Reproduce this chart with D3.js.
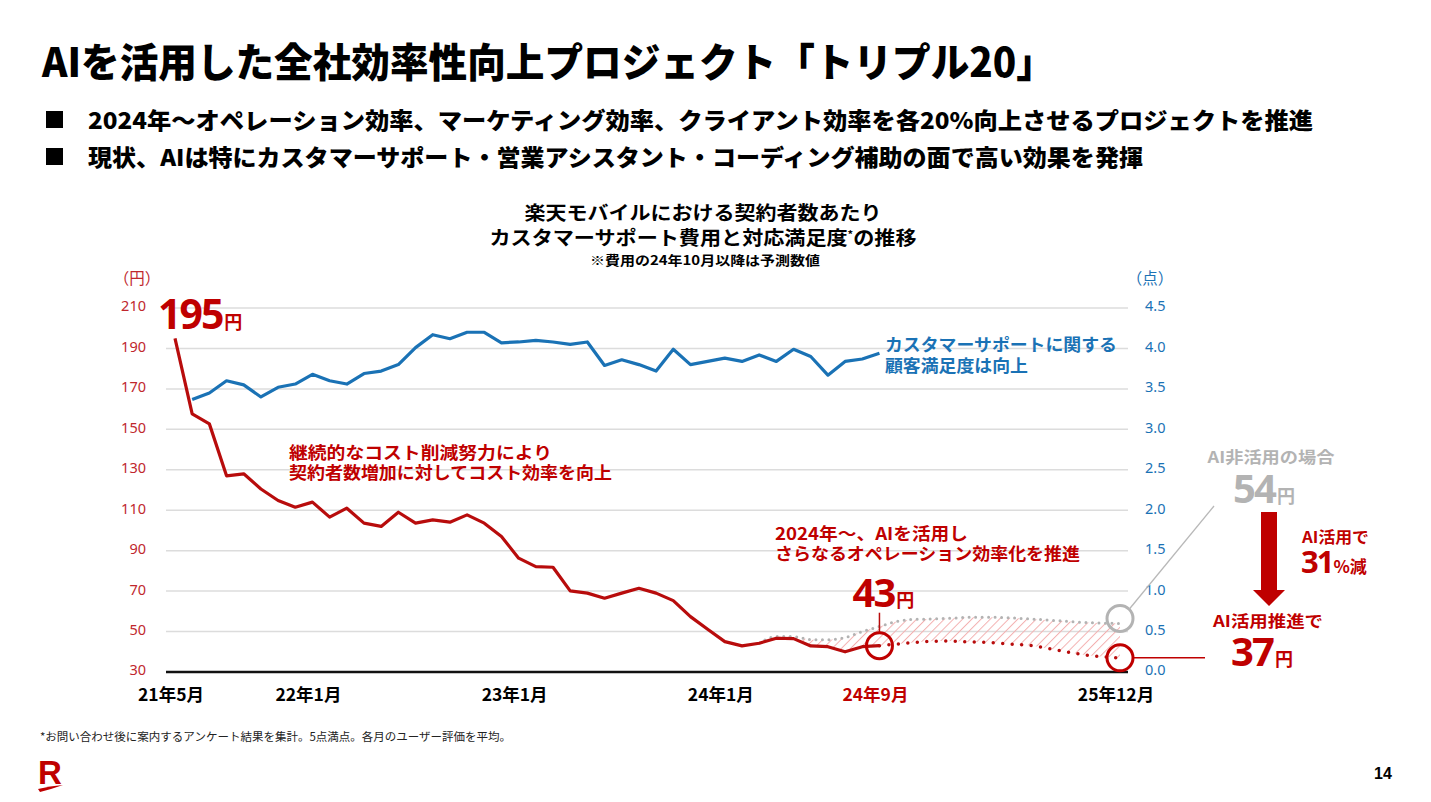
<!DOCTYPE html>
<html><head><meta charset="utf-8">
<script src="https://cdn.jsdelivr.net/npm/d3@7"></script>
<style>
html,body{margin:0;padding:0;background:#fff;}
svg text{font-family:'Noto Sans CJK JP','Noto Sans',sans-serif;}
</style></head>
<body>
<svg id="c" width="1431" height="802"></svg>
<script>
// ---------- data ----------
const monthTicks = [
  {label:"21年5月", i:0}, {label:"22年1月", i:8}, {label:"23年1月", i:20},
  {label:"24年1月", i:32}, {label:"24年9月", i:41}, {label:"25年12月", i:55}
];
// support cost per subscriber (円), actual, monthly from 21年5月
const costActual = [195,157.6,152.7,127,128,120.5,114.8,111.5,114,106.6,111,103.6,102,109,103.6,
  105.2,104.1,107.7,103.6,97,86.3,82.1,81.8,70.1,69,66.5,69,71.4,69,65.3,57.4,51.1,45,42.9,44.2,
  46.7,46.5,42.9,42.5,40,42.5,43];
// forecast with AI (index 41..55)
const costForecastAI = [43,43.8,44.6,45.2,45.3,45,44.7,44.2,43.6,42.9,41.4,39.8,38.4,37.5,37];
// forecast without AI (index 34..55)
const costNoAI = [44.2,47.5,47.5,46,46,47,50,52.5,55,56,56.2,56.5,57,57.1,57,56.6,56.1,55.6,55,54.5,54.2,54];
// customer satisfaction (点), from index 1
const satisfaction = [3.37,3.45,3.60,3.55,3.40,3.52,3.56,3.68,3.60,3.56,3.69,3.72,3.80,4.01,4.17,4.12,
  4.20,4.20,4.07,4.08,4.10,4.08,4.05,4.08,3.79,3.86,3.80,3.72,3.99,3.80,3.84,3.88,3.84,3.92,3.84,
  3.99,3.90,3.67,3.84,3.87,3.94];
const leftTicks = [30,50,70,90,110,130,150,170,190,210];
const rightTicks = [0,0.5,1.0,1.5,2.0,2.5,3.0,3.5,4.0,4.5];

// ---------- setup ----------
const RED = "#bf0000", LINE_RED = "#b80c0c", BLUE = "#1a72b5", GREY = "#b3b3b3";
const svg = d3.select("#c");
const x = d3.scaleLinear().domain([0,55]).range([175,1120]);
const yL = d3.scaleLinear().domain([30,210]).range([672,308]);
const yR = d3.scaleLinear().domain([0,4.5]).range([672,308]);
const gx0 = 166, gx1 = 1128;

const defs = svg.append("defs");
const pat = defs.append("pattern").attr("id","hatch").attr("patternUnits","userSpaceOnUse")
  .attr("width",6.5).attr("height",6.5).attr("patternTransform","rotate(45)");
pat.append("line").attr("x1",0).attr("y1",0).attr("x2",0).attr("y2",6.5)
  .attr("stroke","#f3b0b0").attr("stroke-width",2);

// ---------- headings ----------
svg.append("text").attr("x",42).attr("y",77).attr("font-size",40).attr("font-weight",900)
  .attr("textLength",1013).attr("lengthAdjust","spacingAndGlyphs").attr("fill","#000")
  .text("AIを活用した全社効率性向上プロジェクト「トリプル20」");
const bullets = [
  {t:"2024年～オペレーション効率、マーケティング効率、クライアント効率を各20%向上させるプロジェクトを推進", y:129, w:1225},
  {t:"現状、AIは特にカスタマーサポート・営業アシスタント・コーディング補助の面で高い効果を発揮", y:166, w:1055}
];
bullets.forEach(b=>{
  svg.append("rect").attr("x",46).attr("y",b.y-18).attr("width",17).attr("height",17).attr("fill","#000");
  svg.append("text").attr("x",88).attr("y",b.y).attr("font-size",23).attr("font-weight",900)
    .attr("textLength",b.w).attr("lengthAdjust","spacingAndGlyphs").text(b.t);
});

// chart title
const ct = svg.append("g").attr("text-anchor","middle").attr("font-weight",700);
ct.append("text").attr("x",703).attr("y",220).attr("font-size",19).attr("textLength",357).attr("lengthAdjust","spacingAndGlyphs").text("楽天モバイルにおける契約者数あたり");
const t2 = ct.append("text").attr("x",703).attr("y",245).attr("font-size",19).attr("textLength",427).attr("lengthAdjust","spacingAndGlyphs");
t2.append("tspan").text("カスタマーサポート費用と対応満足度");
t2.append("tspan").attr("font-size",10).attr("dy",-7).text("*");
t2.append("tspan").attr("dy",7).text("の推移");
ct.append("text").attr("x",705).attr("y",265).attr("font-size",13).attr("textLength",230).attr("lengthAdjust","spacingAndGlyphs").text("※費用の24年10月以降は予測数値");

// ---------- grid & axes ----------
svg.append("g").selectAll("line").data(leftTicks.slice(1)).join("line")
  .attr("x1",gx0).attr("x2",gx1).attr("y1",d=>yL(d)).attr("y2",d=>yL(d))
  .attr("stroke","#dcdcdc").attr("stroke-width",1.5);
svg.append("line").attr("x1",gx0).attr("x2",gx1).attr("y1",yL(30)).attr("y2",yL(30))
  .attr("stroke","#111").attr("stroke-width",2.5);

const leftAxis = d3.axisLeft(yL).tickValues(leftTicks).tickSize(0).tickPadding(0).tickFormat(d3.format("d"));
const la = svg.append("g").attr("transform","translate(146,0)").call(leftAxis);
la.select(".domain").remove();
la.selectAll("text").attr("fill","#c0272d").attr("font-size",14.5).attr("dy","0.2em")
  .style("font-family","'Noto Sans','Noto Sans CJK JP',sans-serif");
const rightAxis = d3.axisRight(yR).tickValues(rightTicks).tickSize(0).tickPadding(0).tickFormat(d3.format(".1f"));
const ra = svg.append("g").attr("transform","translate(1145,0)").call(rightAxis);
ra.select(".domain").remove();
ra.selectAll("text").attr("fill",BLUE).attr("font-size",14.5).attr("dy","0.2em")
  .style("font-family","'Noto Sans','Noto Sans CJK JP',sans-serif");
svg.append("text").attr("x",137).attr("y",284).attr("text-anchor","middle").attr("font-size",15.5).attr("fill","#c0272d").text("（円）");
svg.append("text").attr("x",1150).attr("y",284).attr("text-anchor","middle").attr("font-size",15.5).attr("fill",BLUE).text("（点）");

svg.append("g").selectAll("text").data(monthTicks).join("text")
  .attr("x",d=>x(d.i)-4).attr("y",701).attr("text-anchor","middle").attr("font-size",17.5).attr("font-weight",700)
  .attr("fill",d=>d.label==="24年9月"?RED:"#000").text(d=>d.label);

// ---------- hatched gap area ----------
const withAI = costActual.map((v,i)=>({i,v})).concat(costForecastAI.slice(1).map((v,k)=>({i:41+k+1,v})));
const noAI = costNoAI.map((v,k)=>({i:34+k,v}));
const gapData = noAI.filter(d=>d.i>=35).map(d=>({i:d.i, hi:d.v, lo:withAI.find(w=>w.i===d.i).v}));
svg.append("path").datum(gapData)
  .attr("d",d3.area().x(d=>x(d.i)).y0(d=>yL(d.lo)).y1(d=>yL(d.hi)).curve(d3.curveMonotoneX))
  .attr("fill","url(#hatch)");

// grey dotted (no AI)
svg.append("path").datum(noAI)
  .attr("d",d3.line().x(d=>x(d.i)).y(d=>yL(d.v)).curve(d3.curveMonotoneX))
  .attr("fill","none").attr("stroke",GREY).attr("stroke-width",3).attr("stroke-linecap","round")
  .attr("stroke-dasharray","0 6.5");

// red dotted forecast (AI)
svg.append("path").datum(costForecastAI.map((v,k)=>({i:41+k,v})))
  .attr("d",d3.line().x(d=>x(d.i)).y(d=>yL(d.v)).curve(d3.curveMonotoneX))
  .attr("fill","none").attr("stroke",LINE_RED).attr("stroke-width",3.5).attr("stroke-linecap","round")
  .attr("stroke-dasharray","0 9.5");

// red actual line
svg.append("path").datum(costActual)
  .attr("d",d3.line().x((d,i)=>x(i)).y(d=>yL(d)))
  .attr("fill","none").attr("stroke",LINE_RED).attr("stroke-width",3.2).attr("stroke-linejoin","round");

// blue satisfaction
svg.append("path").datum(satisfaction)
  .attr("d",d3.line().x((d,i)=>x(i+1)).y(d=>yR(d)))
  .attr("fill","none").attr("stroke",BLUE).attr("stroke-width",3.2).attr("stroke-linejoin","round");

// ---------- markers ----------
const lastA = costActual.length-1;
const endI = 41 + costForecastAI.length - 1;
const cA = {x:x(lastA), y:yL(costActual[lastA])};
const cE = {x:x(endI), y:yL(costForecastAI[costForecastAI.length-1])};
const cN = {x:x(endI), y:yL(costNoAI[costNoAI.length-1])-5};
svg.append("line").attr("x1",cA.x).attr("x2",cA.x).attr("y1",cA.y-33).attr("y2",cA.y-13).attr("stroke",LINE_RED).attr("stroke-width",1.5);
[cA,cE].forEach(c=>svg.append("circle").attr("cx",c.x).attr("cy",c.y).attr("r",13).attr("fill","none").attr("stroke",RED).attr("stroke-width",3));
svg.append("circle").attr("cx",cN.x).attr("cy",cN.y).attr("r",13).attr("fill","none").attr("stroke",GREY).attr("stroke-width",3);
svg.append("line").attr("x1",cN.x+9).attr("y1",cN.y-9).attr("x2",1214).attr("y2",506).attr("stroke","#b8b8b8").attr("stroke-width",1.3);
svg.append("line").attr("x1",cE.x+13).attr("y1",cE.y).attr("x2",1205).attr("y2",cE.y).attr("stroke",RED).attr("stroke-width",1.5);

// ---------- annotations ----------
// multi-line block as one text element; each line a tspan
function block(lines, color, anchor){
  const t = svg.append("text").attr("fill",color).attr("font-weight",700).attr("text-anchor",anchor||"start");
  lines.forEach(l=>{
    if (l.num !== undefined){
      const s = t.append("tspan").attr("x",l.x).attr("y",l.y).attr("font-size",l.size).attr("letter-spacing",-2)
        .style("font-family","'Noto Sans','Noto Sans CJK JP',sans-serif").text(l.num);
      t.append("tspan").attr("font-size",l.usize).attr("dx",l.udx||2).attr("letter-spacing",0).text(l.unit);
    } else {
      t.append("tspan").attr("x",l.x).attr("y",l.y).attr("font-size",l.size)
        .attr("textLength",l.w).attr("lengthAdjust","spacingAndGlyphs").text(l.t);
    }
  });
  return t;
}
block([{num:"195",unit:"円",x:158,y:329,size:41,usize:18}], RED);
block([{t:"継続的なコスト削減努力により",w:263,x:289,y:459,size:17},{t:"契約者数増加に対してコスト効率を向上",w:323,x:289,y:479,size:17}], RED);
block([{t:"カスタマーサポートに関する",w:232,x:885,y:351,size:17},{t:"顧客満足度は向上",w:143,x:885,y:372,size:17}], BLUE);
block([{t:"2024年～、AIを活用し",w:193,x:775,y:540,size:17},{t:"さらなるオペレーション効率化を推進",w:305,x:775,y:560,size:17}], RED);
block([{num:"43",unit:"円",x:cA.x+4,y:607,size:40,usize:18}], RED, "middle");
block([{t:"AI非活用の場合",w:127,x:1271,y:463,size:16},{num:"54",unit:"円",x:1264,y:503,size:40,usize:18}], GREY, "middle");
block([{t:"AI活用で",w:67,x:1302,y:543,size:16},{num:"31",unit:"%減",x:1301,y:573,size:31,usize:17,udx:1}], RED);
block([{t:"AI活用推進で",w:110,x:1268,y:627,size:16},{num:"37",unit:"円",x:1262,y:666,size:40,usize:18}], RED, "middle");

// arrow
const ax = 1269;
svg.append("path").attr("d",`M${ax-8},512 L${ax+8},512 L${ax+8},590 L${ax+16},590 L${ax},606 L${ax-16},590 L${ax-8},590 Z`).attr("fill",RED);

// ---------- footer ----------
svg.append("text").attr("x",40).attr("y",741).attr("font-size",11.5).attr("fill","#222")
  .text("*お問い合わせ後に案内するアンケート結果を集計。5点満点。各月のユーザー評価を平均。");
svg.append("text").attr("x",38).attr("y",784).attr("font-size",33).attr("font-weight",700).attr("fill",RED)
  .style("font-family","'Liberation Sans',sans-serif").text("R");
svg.append("path").attr("d","M38,789 Q50,786 63,785 Q52,789 40,792 Z").attr("fill",RED);
svg.append("text").attr("x",1383).attr("y",779).attr("font-size",16).attr("font-weight",700).attr("text-anchor","middle")
  .style("font-family","'Liberation Sans',sans-serif").text("14");
</script>
</body></html>
